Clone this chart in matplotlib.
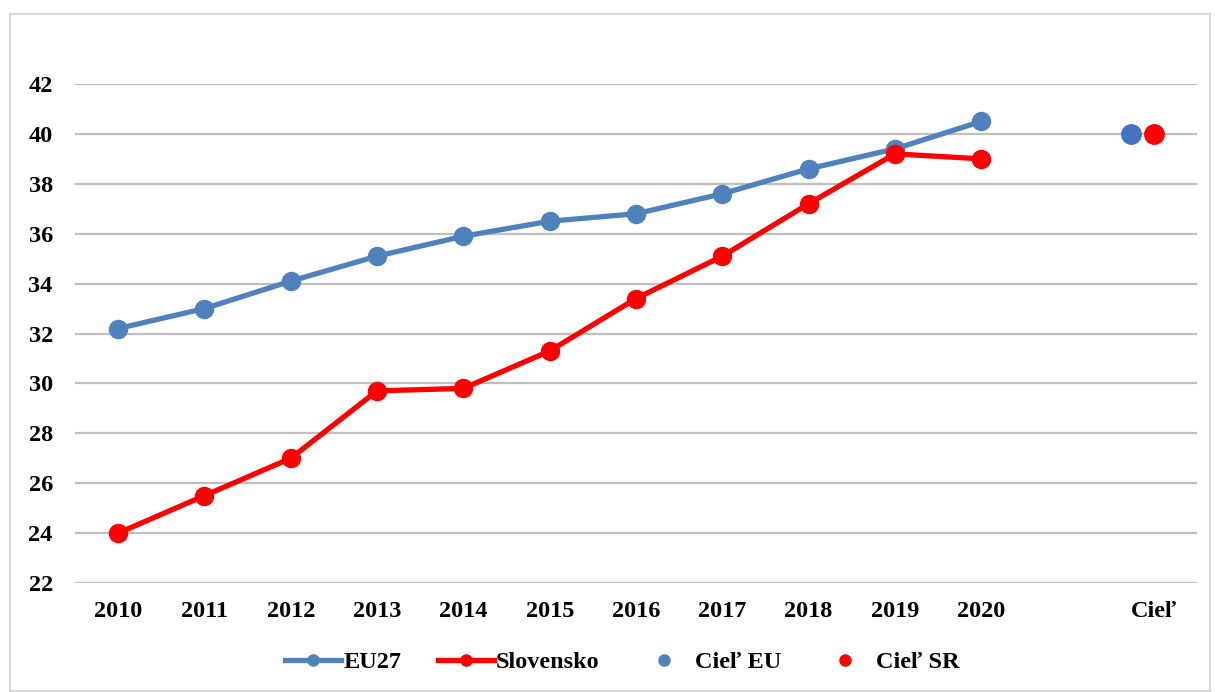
import matplotlib.pyplot as plt
from matplotlib.patches import Rectangle
from matplotlib.lines import Line2D

# ---------------------------------------------------------
# DATA
# ---------------------------------------------------------

years = ["2010", "2011", "2012", "2013", "2014", "2015",
         "2016", "2017", "2018", "2019", "2020"]
categories = years + ["", "Cieľ"]

eu27 = [32.2, 33.0, 34.1, 35.1, 35.9, 36.5, 36.8, 37.6, 38.6, 39.4, 40.5]
slovensko = [24.0, 25.5, 27.0, 29.7, 29.8, 31.3, 33.4, 35.1, 37.2, 39.2, 39.0]
ciel_eu = 40.0
ciel_sr = 40.0

BLUE = "#4F81BD"
BLUE_DOT = "#4472C4"
RED = "#FF0000"
GRID = "#BFBFBF"
FS = 17.5

plt.rcParams["font.family"] = ["Liberation Serif", "DejaVu Serif"]
plt.rcParams["font.weight"] = "bold"

# ---------------------------------------------------------
# PLOT
# ---------------------------------------------------------

fig = plt.figure(figsize=(12.15, 6.92), dpi=100)
fig.patches.append(Rectangle((10 / 1215, 0.002), 1200 / 1215, 1 - 15 / 692,
                             transform=fig.transFigure, fill=False,
                             edgecolor="#D9D9D9", linewidth=1.5))

ax = fig.add_axes([75 / 1215, 1 - 583 / 692, 1122 / 1215, 499 / 692])

x = list(range(len(years)))
ciel_x = categories.index("Cieľ")

ax.plot(x, eu27, color=BLUE, linewidth=3.8, marker="o", markersize=13,
        label="EU27", zorder=3)
ax.plot(x, slovensko, color=RED, linewidth=3.8, marker="o", markersize=13,
        label="Slovensko", zorder=4)
ax.plot([ciel_x - 0.27], [ciel_eu], linestyle="none", marker="o",
        markersize=14, color=BLUE_DOT, label="Cieľ EU", zorder=3)
ax.plot([ciel_x], [ciel_sr], linestyle="none", marker="o",
        markersize=14, color=RED, label="Cieľ SR", zorder=3)

ax.set_xlim(-0.5, len(categories) - 0.5)
ax.set_ylim(22, 42)
ax.set_yticks(range(22, 43, 2))
ax.set_xticks(range(len(categories)))
ax.set_xticklabels(categories)
ax.grid(axis="y", color=GRID, linewidth=1.6)
ax.set_axisbelow(True)
for s in ax.spines.values():
    s.set_visible(False)
ax.tick_params(length=0, labelsize=FS)
ax.tick_params(axis="x", pad=13)
ax.tick_params(axis="y", pad=16)
for lab in ax.get_xticklabels() + ax.get_yticklabels():
    lab.set_fontweight("bold")

handles = [
    Line2D([], [], color=BLUE, linewidth=3.8, marker="o", markersize=8),
    Line2D([], [], color=RED, linewidth=3.8, marker="o", markersize=8),
    Line2D([], [], color=BLUE, linestyle="none", marker="o", markersize=8),
    Line2D([], [], color=RED, linestyle="none", marker="o", markersize=8),
]
fig.legend(handles, ["EU27", "Slovensko", "Cieľ EU", "Cieľ SR"],
           loc="center", bbox_to_anchor=(0.512, 1 - 662 / 692), ncol=4,
           frameon=False, prop={"size": FS, "weight": "bold"},
           handlelength=2.3, handletextpad=0.1, columnspacing=1.5)

fig.savefig("out.png", dpi=100)
plt.close(fig)
